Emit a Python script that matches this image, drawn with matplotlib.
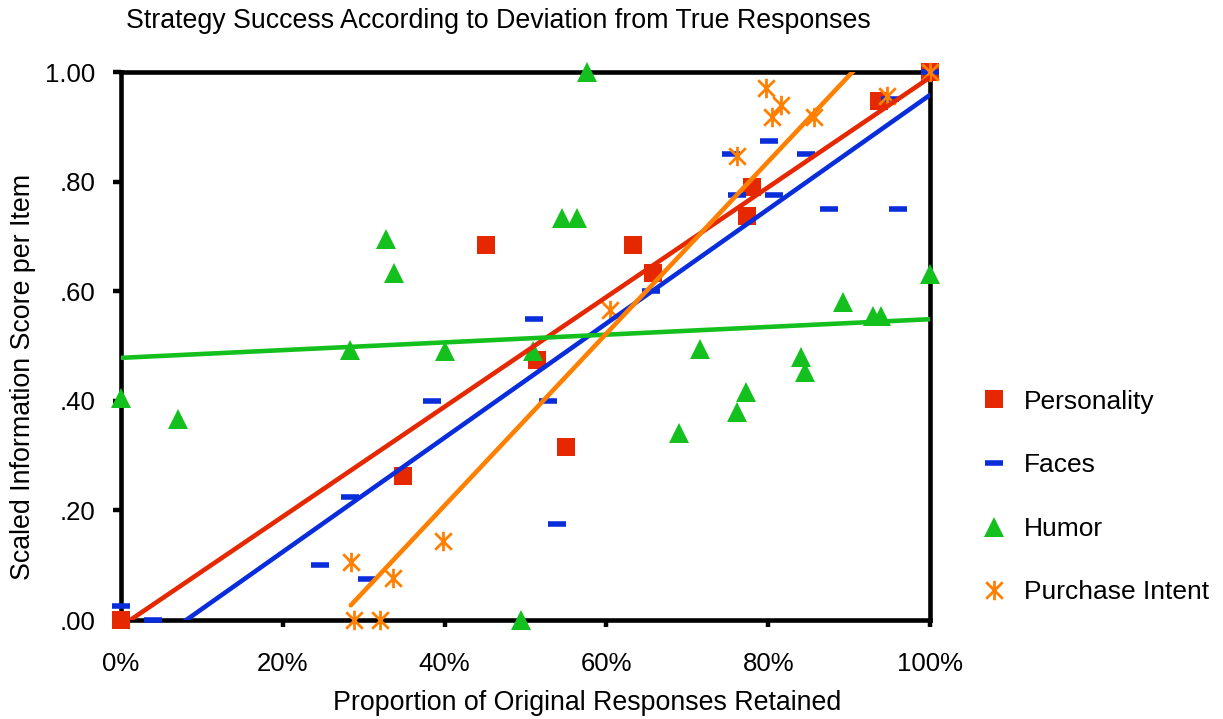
import numpy as np
import matplotlib
matplotlib.use('Agg')
import matplotlib.pyplot as plt
from matplotlib.path import Path
from matplotlib.lines import Line2D

plt.rcParams['font.family'] = ['Liberation Sans', 'DejaVu Sans']

# data (x = proportion retained, y = scaled score)
personalityX = [0.0, 0.451, 0.633, 0.657, 0.514, 0.550, 0.348, 0.774, 0.780, 0.937, 1.0]
personalityY = [0.0, 0.684, 0.684, 0.633, 0.474, 0.316, 0.263, 0.737, 0.790, 0.947, 1.0]

facesX = [0.0, 0.04, 0.246, 0.304, 0.283, 0.385, 0.528, 0.539, 0.511, 0.655,
          0.754, 0.801, 0.847, 0.762, 0.807, 0.875, 0.961, 0.95, 1.0]
facesY = [0.025, 0.0, 0.1, 0.075, 0.225, 0.4, 0.4, 0.175, 0.55, 0.6,
          0.85, 0.875, 0.85, 0.775, 0.775, 0.75, 0.75, 0.95, 1.0]

humorX = [0.0, 0.07, 0.283, 0.40, 0.327, 0.338, 0.576, 0.545, 0.564, 0.509, 0.892,
          0.93, 0.939, 1.0, 0.716, 0.84, 0.845, 0.773, 0.761, 0.69, 0.495]
humorY = [0.405, 0.367, 0.493, 0.49, 0.695, 0.633, 1.0, 0.734, 0.734, 0.49, 0.58,
          0.555, 0.555, 0.632, 0.494, 0.48, 0.453, 0.416, 0.38, 0.341, 0.0]

purchaseX = [0.284, 0.336, 0.398, 0.288, 0.320, 0.604, 0.762, 0.797, 0.816,
             0.805, 0.856, 0.947, 1.0]
purchaseY = [0.106, 0.077, 0.144, 0.0, 0.0, 0.566, 0.847, 0.971, 0.94,
             0.918, 0.918, 0.956, 1.0]

xTicks = [0, 0.2, 0.4, 0.6, 0.8, 1.0]
xTickLabels = ['0%', '20%', '40%', '60%', '80%', '100%']
yTicks = [0, 0.2, 0.4, 0.6, 0.8, 1.0]
yTickLabels = ['.00', '.20', '.40', '.60', '.80', '1.00']

red = '#E52800'
blue = '#0A2DDC'
green = '#14C01E'
orange = '#FF8000'

# excel style star: an X with a vertical bar
star = Path([(0, -1), (0, 1), (-0.85, -0.85), (0.85, 0.85), (-0.85, 0.85), (0.85, -0.85)],
            [Path.MOVETO, Path.LINETO, Path.MOVETO, Path.LINETO, Path.MOVETO, Path.LINETO])

fig = plt.figure(figsize=(12.23, 7.19), dpi=100)
ax = fig.add_axes([121 / 1223, 1 - 620 / 719, 809 / 1223, 548 / 719])

series = [
    ('Personality', personalityX, personalityY, red, dict(marker='s', ms=13, mew=0)),
    ('Faces', facesX, facesY, blue, dict(marker='_', ms=13, mew=4)),
    ('Humor', humorX, humorY, green, dict(marker='^', ms=14, mew=0)),
    ('Purchase Intent', purchaseX, purchaseY, orange, dict(marker=star, ms=14, mew=2)),
]

handles = []
for name, xs, ys, col, mk in series:
    ax.plot(xs, ys, ls='none', color=col, clip_on=False, zorder=3, **mk)
    h = Line2D([], [], ls='none', color=col, **mk)
    handles.append(h)

# linear trendlines over each series' x range
for name, xs, ys, col, mk in series:
    slope, icpt = np.polyfit(xs, ys, 1)
    xx = np.array([min(xs), max(xs)])
    ax.plot(xx, slope * xx + icpt, color=col, lw=3.3, zorder=4, solid_capstyle='round')

ax.set_xlim(0, 1)
ax.set_ylim(0, 1)
ax.set_xticks(xTicks)
ax.set_xticklabels(xTickLabels)
ax.set_yticks(yTicks)
ax.set_yticklabels(yTickLabels)
ax.tick_params(axis='x', direction='out', length=5, width=3.2, pad=18, labelsize=18.5)
ax.tick_params(axis='y', direction='out', length=5.5, width=3.2, pad=13, labelsize=18.5)
for s in ax.spines.values():
    s.set_linewidth(3.3)
    s.set_zorder(2.5)

fig.text(498 / 1223, 1 - 21 / 719, 'Strategy Success According to Deviation from True Responses',
         ha='center', va='center', fontsize=19.3)
fig.text(587 / 1223, 1 - 703 / 719, 'Proportion of Original Responses Retained',
         ha='center', va='center', fontsize=19.3)
fig.text(23 / 1223, 1 - 377 / 719, 'Scaled Information Score per Item',
         ha='center', va='center', rotation=90, fontsize=19.3)

fig.legend(handles, [s[0] for s in series], loc='center left',
           bbox_to_anchor=(978 / 1223, 1 - 497 / 719), frameon=False,
           fontsize=19, handlelength=1.2, handletextpad=0.55, labelspacing=1.5,
           borderaxespad=0, borderpad=0)

fig.savefig('out.png', dpi=100)
